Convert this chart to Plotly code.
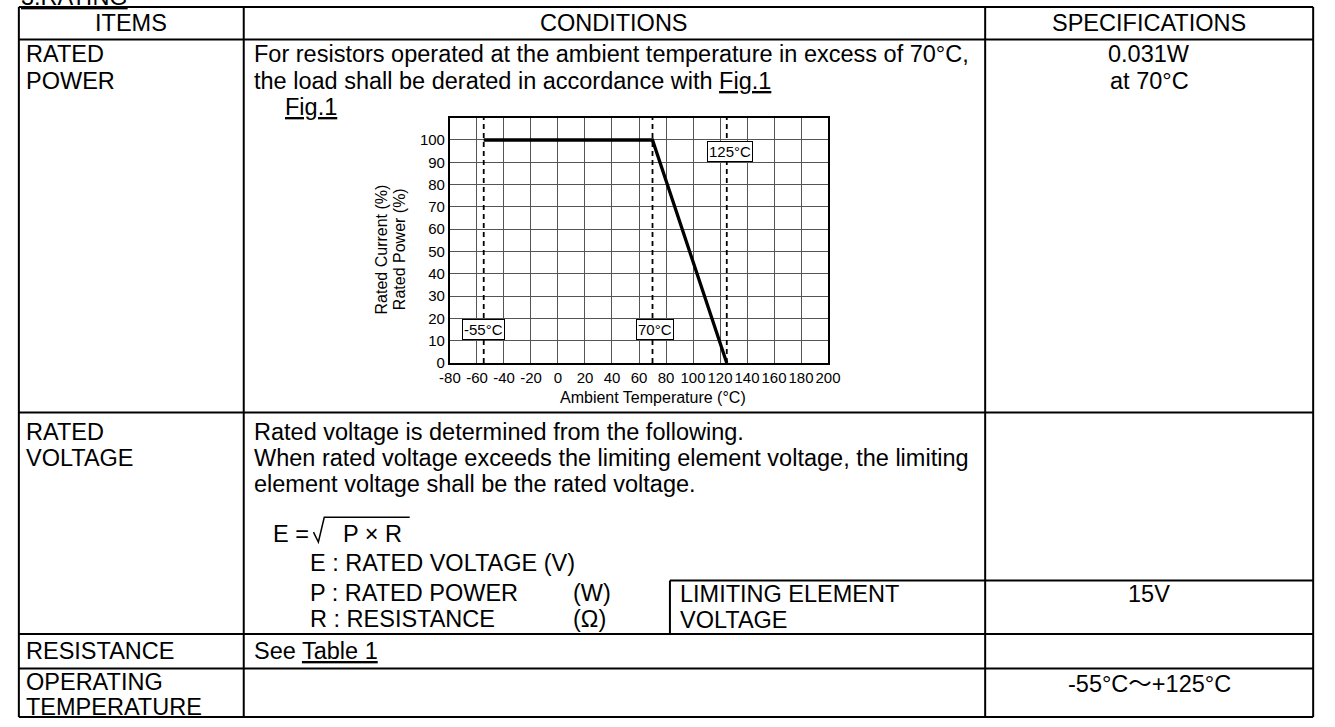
import plotly.graph_objects as go

W, H = 1335, 727
FONT = "Liberation Sans, Arial, Noto Sans CJK JP, sans-serif"
FS = 23.5          # table text size (px)
CFS = 15           # chart tick / label size

# ---------------- chart data (Fig.1 derating curve) ----------------
derate_temp = [-55, 70, 125]
derate_pct = [100, 100, 0]
limit_temps = [-55, 70, 125]
limit_labels = ["-55°C", "70°C", "125°C"]
limit_label_x = [-55, 72, 127.5]
limit_label_y = [15, 15, 95]
x_tick_vals = [-80, -60, -40, -20, 0, 20, 40, 60, 80, 100, 120, 140, 160, 180, 200]
x_tick_text = ["-80", "-60", "-40", "-20", "0", "20", "40", "60", "80", "100", "120", "140", "160", "180", "200"]
y_tick_vals = [0, 10, 20, 30, 40, 50, 60, 70, 80, 90, 100]
x_range = [-80, 200]
y_range = [0, 110]
x_title = "Ambient Temperature (°C)"
y_title_lines = ["Rated Current (%)", "Rated Power (%)"]

# ---------------- table text ----------------
header_cells = ["ITEMS", "CONDITIONS", "SPECIFICATIONS"]
item_names = [["RATED", "POWER"], ["RATED", "VOLTAGE"], ["RESISTANCE"], ["OPERATING", "TEMPERATURE"]]
power_cond = ["For resistors operated at the ambient temperature in excess of 70°C,",
              "the load shall be derated in accordance with <u>Fig.1</u>"]
power_spec = ["0.031W", "at 70°C"]
voltage_cond = ["Rated voltage is determined from the following.",
                "When rated voltage exceeds the limiting element voltage, the limiting",
                "element voltage shall be the rated voltage."]
formula_lhs = "E ="
formula_rhs = "P \u00d7 R"
formula_defs = [("E : RATED VOLTAGE (V)", ""), ("P : RATED POWER", "(W)"), ("R : RESISTANCE", "(\u03a9)")]
limit_elem = ["LIMITING ELEMENT", "VOLTAGE"]
limit_elem_spec = "15V"
resistance_cond = "See <u>Table 1</u>"
temp_spec = "-55°C\uff5e+125°C"

# ---------------- layout geometry (pixels) ----------------
col_x = [8, 237, 992, 1326]
row_y = [7, 40, 417, 641, 676, 725]
box_left, box_top = 671, 587
plot_l, plot_r, plot_t, plot_b = 447, 832, 119, 367


def X(px):
    return px / W


def Y(py):
    return 1 - py / H


fig = go.Figure()

# dashed temperature limits
for t in limit_temps:
    fig.add_trace(go.Scatter(x=[t, t], y=y_range, mode="lines",
                             line=dict(color="black", width=1.8, dash="5px,4px"),
                             hoverinfo="skip", showlegend=False))
# derating curve
fig.add_trace(go.Scatter(x=derate_temp, y=derate_pct, mode="lines",
                         line=dict(color="black", width=3.3),
                         hoverinfo="skip", showlegend=False))

shapes = []


def hline(x0, x1, y, w=2):
    shapes.append(dict(type="line", xref="paper", yref="paper", x0=X(x0), x1=X(x1),
                       y0=Y(y), y1=Y(y), line=dict(color="black", width=w)))


def vline(x, y0, y1, w=2):
    shapes.append(dict(type="line", xref="paper", yref="paper", x0=X(x), x1=X(x),
                       y0=Y(y0), y1=Y(y1), line=dict(color="black", width=w)))


for ry in row_y:
    hline(col_x[0], col_x[3], ry)
for cx in col_x:
    vline(cx, row_y[0], row_y[-1])
hline(box_left, col_x[3], box_top)
vline(box_left, box_top, row_y[3])

# radical sign with vinculum
rad_pts = [(308, 538), (313, 548), (319, 523), (406, 523)]
path = "M " + " L ".join(f"{X(px):.6f},{Y(py):.6f}" for px, py in rad_pts)
shapes.append(dict(type="path", xref="paper", yref="paper", path=path,
                   line=dict(color="black", width=1.5)))

ann = []


def txt(s, x, y, anchor="left", size=FS, angle=0):
    ann.append(dict(text=s, x=X(x), y=Y(y), xref="paper", yref="paper", xanchor=anchor,
                    yanchor="middle", showarrow=False, textangle=angle,
                    font=dict(family=FONT, size=size, color="black")))


# title (mostly cut off at top)
txt("<u>3.RATING</u>", 8, -3)

# header
hc = [(col_x[0] + col_x[1]) / 2, (col_x[1] + col_x[2]) / 2, (col_x[2] + col_x[3]) / 2]
for s, cx in zip(header_cells, hc):
    txt(s, cx, 23, "center")

# RATED POWER row
txt(item_names[0][0], 13, 55)
txt(item_names[0][1], 13, 82)
txt(power_cond[0], 245, 55)
txt(power_cond[1], 245, 82)
txt("<u>Fig.1</u>", 277, 108)
txt(power_spec[0], hc[2], 55, "center")
txt(power_spec[1], hc[2], 82, "center")

# RATED VOLTAGE row
txt(item_names[1][0], 13, 437)
txt(item_names[1][1], 13, 463)
for i, s in enumerate(voltage_cond):
    txt(s, 245, 437 + 26 * i)
txt(formula_lhs, 265, 540)
txt(formula_rhs, 336, 540)
for (s, u), yy in zip(formula_defs, [569, 600, 626]):
    txt(s, 302, yy)
    if u:
        txt(u, 570, yy)
txt(limit_elem[0], 679, 601)
txt(limit_elem[1], 679, 627)
txt(limit_elem_spec, hc[2], 601, "center")

# RESISTANCE row
txt(item_names[2][0], 13, 658)
txt(resistance_cond, 245, 658)

# OPERATING TEMPERATURE row
txt(item_names[3][0], 13, 690)
txt(item_names[3][1], 13, 715)
txt(temp_spec, hc[2], 692, "center")

# chart texts
txt(x_title, 654, 402, "center", 16)
txt(y_title_lines[0], 377, 252, "center", 16, -90)
txt(y_title_lines[1], 395, 252, "center", 16, -90)
for s, lx, ly in zip(limit_labels, limit_label_x, limit_label_y):
    ann.append(dict(text=s, x=lx, y=ly, xref="x", yref="y", showarrow=False,
                    bgcolor="white", bordercolor="black", borderwidth=1, borderpad=1,
                    font=dict(family=FONT, size=CFS, color="black")))

fig.update_layout(
    width=W, height=H, margin=dict(l=0, r=0, t=0, b=0),
    paper_bgcolor="white", plot_bgcolor="white",
    shapes=shapes, annotations=ann, showlegend=False,
    xaxis=dict(domain=[X(plot_l), X(plot_r)], range=x_range, tickvals=x_tick_vals,
               ticktext=x_tick_text, tickangle=0, showgrid=True, gridcolor="#555",
               gridwidth=1, zeroline=False, showline=True, linecolor="black",
               linewidth=2, mirror=True, ticks="",
               tickfont=dict(family=FONT, size=CFS, color="black")),
    yaxis=dict(domain=[Y(plot_b), Y(plot_t)], range=y_range, tickvals=y_tick_vals,
               showgrid=True, gridcolor="#555", gridwidth=1, zeroline=False,
               showline=True, linecolor="black", linewidth=2, mirror=True, ticks="",
               tickfont=dict(family=FONT, size=CFS, color="black")),
)

fig.write_html("out.html", config={"displayModeBar": False},
               post_script="document.body.style.margin='0px';")
